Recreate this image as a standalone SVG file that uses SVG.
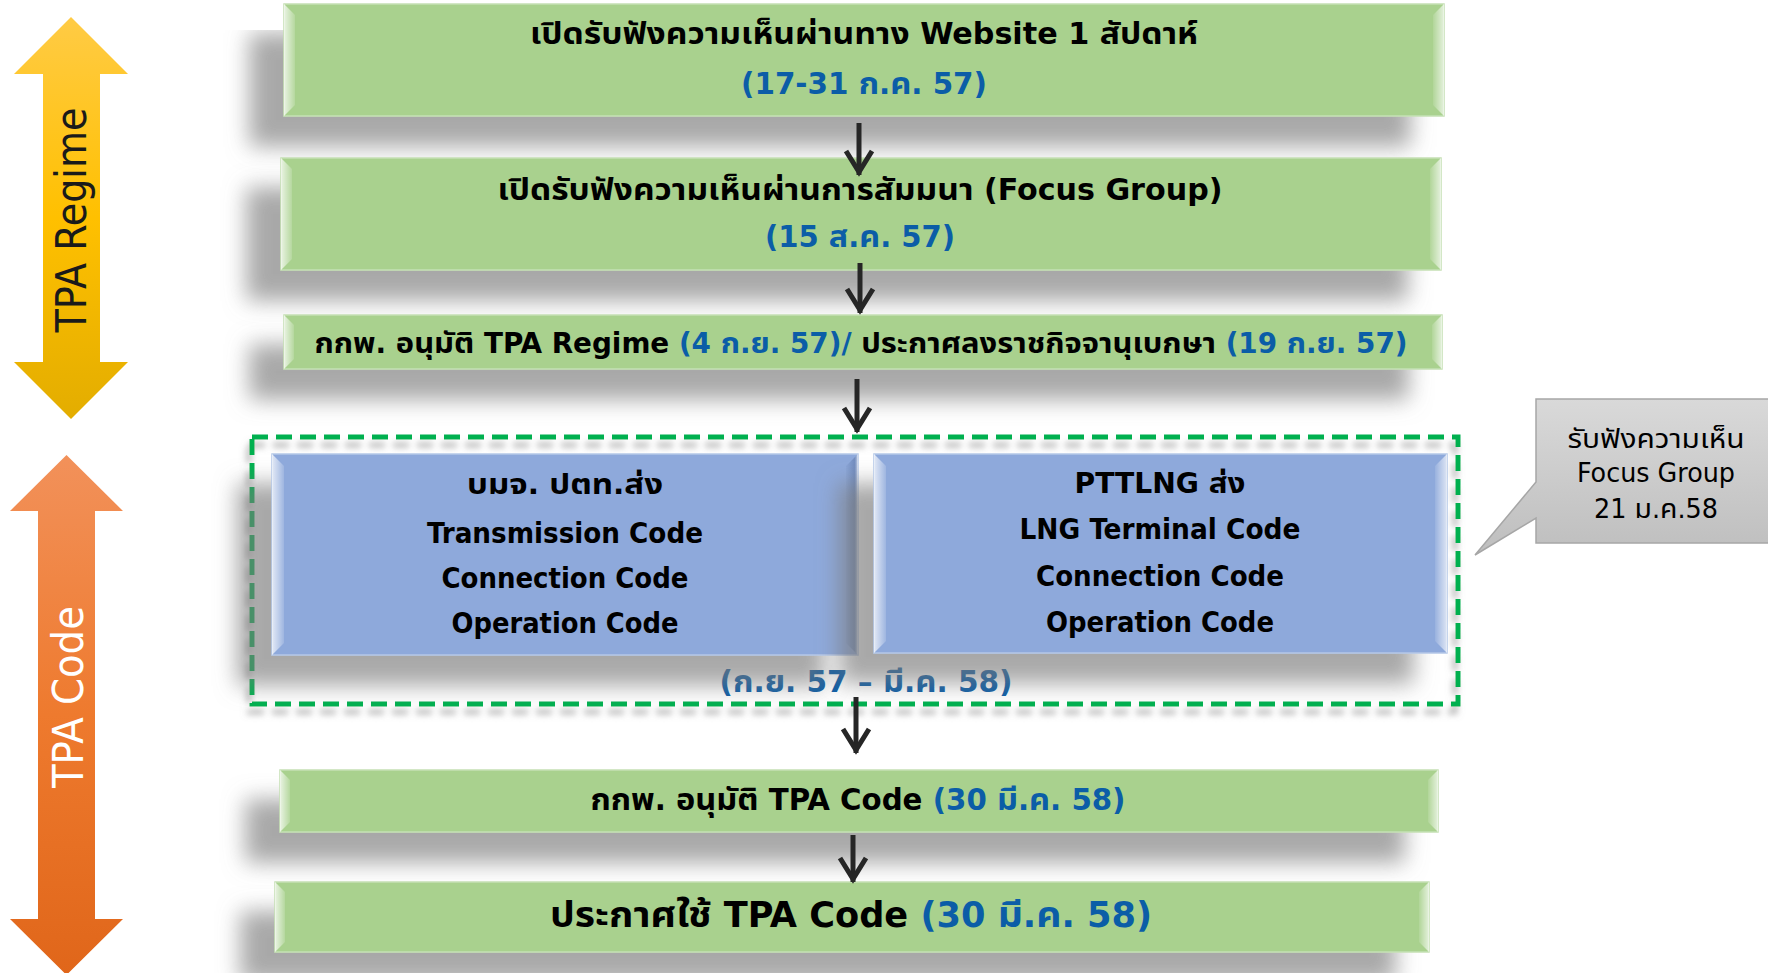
<svg xmlns="http://www.w3.org/2000/svg" width="1768" height="973" viewBox="0 0 1768 973">
<defs>
<style>
.t{font-family:Tahoma,"DejaVu Sans Condensed","DejaVu Sans","Noto Sans Thai","Noto Sans",sans-serif;font-stretch:condensed;}
.b{font-weight:bold;fill:#000;}
.bl{fill:#0B5DA7;}
.g{fill:#A9D18E;stroke:#C5E0B4;stroke-width:1.5;}
.bx{fill:#8EA9DB;stroke:#B4C7E7;stroke-width:1.5;}
.bevL{fill:url(#bevL);}
.bevR{fill:url(#bevR);}
.bevRb{fill:url(#bevRb);}
.conn{fill:none;stroke:#262626;stroke-width:5;marker-end:url(#ah);}
</style>
<linearGradient id="yel" x1="0" y1="0" x2="0" y2="1">
<stop offset="0" stop-color="#FFCB45"/><stop offset="0.5" stop-color="#FFC000"/><stop offset="1" stop-color="#E3AD00"/>
</linearGradient>
<linearGradient id="org" x1="0" y1="0" x2="0" y2="1">
<stop offset="0" stop-color="#F2915A"/><stop offset="0.5" stop-color="#EE7A2E"/><stop offset="1" stop-color="#E0661A"/>
</linearGradient>
<linearGradient id="gray" x1="0" y1="0" x2="0" y2="1">
<stop offset="0" stop-color="#D9D9D9"/><stop offset="1" stop-color="#BEBEBE"/>
</linearGradient>
<linearGradient id="bevL" x1="0" y1="0" x2="1" y2="0">
<stop offset="0" stop-color="#FFFFFF" stop-opacity="0.75"/><stop offset="1" stop-color="#FFFFFF" stop-opacity="0.15"/>
</linearGradient>
<linearGradient id="bevR" x1="0" y1="0" x2="1" y2="0">
<stop offset="0" stop-color="#FFFFFF" stop-opacity="0.1"/><stop offset="1" stop-color="#FFFFFF" stop-opacity="0.7"/>
</linearGradient>
<linearGradient id="bevRb" x1="0" y1="0" x2="1" y2="0">
<stop offset="0" stop-color="#3F5A8C" stop-opacity="0.05"/><stop offset="0.7" stop-color="#3F5A8C" stop-opacity="0.35"/><stop offset="1" stop-color="#FFFFFF" stop-opacity="0.6"/>
</linearGradient>
<filter id="sh" filterUnits="userSpaceOnUse" x="0" y="0" width="1768" height="973">
<feGaussianBlur in="SourceAlpha" stdDeviation="11"/>
<feOffset dx="-34" dy="30" result="b"/>
<feFlood flood-color="#7A7A7A" flood-opacity="0.65"/>
<feComposite in2="b" operator="in"/>
<feMerge><feMergeNode/><feMergeNode in="SourceGraphic"/></feMerge>
</filter>
<filter id="sh2" filterUnits="userSpaceOnUse" x="0" y="0" width="1768" height="973">
<feGaussianBlur in="SourceAlpha" stdDeviation="3"/>
<feOffset dx="-3" dy="8" result="b"/>
<feFlood flood-color="#808080" flood-opacity="0.55"/>
<feComposite in2="b" operator="in"/>
<feMerge><feMergeNode/><feMergeNode in="SourceGraphic"/></feMerge>
</filter>
<marker id="ah" markerUnits="userSpaceOnUse" markerWidth="40" markerHeight="40" refX="0" refY="0" orient="auto" overflow="visible">
<path d="M-24,-13 L-3,0 L-24,13" fill="none" stroke="#262626" stroke-width="5" stroke-linejoin="miter"/>
</marker>
</defs>
<rect width="1768" height="973" fill="#FFFFFF"/>

<g id="arrow-regime">
<polygon points="71,17 128,74 100,74 100,362 128,362 71,419 14,362 43,362 43,74 14,74" fill="url(#yel)"/>
<text class="t" transform="translate(86,220) rotate(-90)" text-anchor="middle" font-size="42" fill="#1A1A1A" textLength="225" lengthAdjust="spacingAndGlyphs">TPA Regime</text>
</g>

<g id="arrow-code">
<polygon points="66.5,455 123,511 95,511 95,919 123,919 66.5,975 10,919 38,919 38,511 10,511" fill="url(#org)"/>
<text class="t" transform="translate(83,697) rotate(-90)" text-anchor="middle" font-size="42" fill="#FFFFFF" textLength="182" lengthAdjust="spacingAndGlyphs">TPA Code</text>
</g>

<g id="step1">
<rect class="g" x="284" y="4" width="1160" height="112" filter="url(#sh)"/>
<polygon class="bevL" points="284,4 295,15 295,105 284,116"/>
<polygon class="bevR" points="1444,4 1433,15 1433,105 1444,116"/>
<text class="t b" x="864" y="44" font-size="30" text-anchor="middle" textLength="668" lengthAdjust="spacingAndGlyphs">เปิดรับฟังความเห็นผ่านทาง Website 1 สัปดาห์</text>
<text class="t bl" x="864" y="94" font-size="30" font-weight="bold" text-anchor="middle" textLength="246" lengthAdjust="spacingAndGlyphs">(17-31 ก.ค. 57)</text>
</g>

<g id="step2">
<rect class="g" x="281" y="158" width="1160" height="112" filter="url(#sh)"/>
<polygon class="bevL" points="281,158 292,169 292,259 281,270"/>
<polygon class="bevR" points="1441,158 1430,169 1430,259 1441,270"/>
<text class="t b" x="860" y="200" font-size="30" text-anchor="middle" textLength="725" lengthAdjust="spacingAndGlyphs">เปิดรับฟังความเห็นผ่านการสัมมนา (Focus Group)</text>
<text class="t bl" x="860" y="247" font-size="30" font-weight="bold" text-anchor="middle" textLength="190" lengthAdjust="spacingAndGlyphs">(15 ส.ค. 57)</text>
</g>

<g id="step3">
<rect class="g" x="284" y="315" width="1158" height="54" filter="url(#sh)"/>
<polygon class="bevL" points="284,315 294,325 294,359 284,369"/>
<polygon class="bevR" points="1442,315 1432,325 1432,359 1442,369"/>
<text class="t b" x="861" y="353" font-size="28" text-anchor="middle" textLength="1093" lengthAdjust="spacingAndGlyphs">กกพ. อนุมัติ TPA Regime <tspan class="bl">(4 ก.ย. 57)/</tspan> ประกาศลงราชกิจจานุเบกษา <tspan class="bl">(19 ก.ย. 57)</tspan></text>
</g>

<g id="group-code">
<rect x="252" y="437" width="1206" height="267" fill="none" stroke="#00B050" stroke-width="5" stroke-dasharray="16 8" filter="url(#sh2)"/>
<text class="t bl" x="866" y="692" font-size="30" font-weight="bold" text-anchor="middle" textLength="293" lengthAdjust="spacingAndGlyphs">(ก.ย. 57 – มี.ค. 58)</text>
</g>

<g id="ptt">
<rect class="bx" x="272" y="454" width="586" height="201" filter="url(#sh)"/>
<polygon class="bevL" points="272,454 284,466 284,643 272,655"/>
<polygon class="bevRb" points="858,454 846,466 846,643 858,655"/>
<text class="t b" x="565" y="494" font-size="29" text-anchor="middle" textLength="196" lengthAdjust="spacingAndGlyphs">บมจ. ปตท.ส่ง</text>
<text class="t b" x="565" y="543" font-size="29" text-anchor="middle" textLength="276" lengthAdjust="spacingAndGlyphs">Transmission Code</text>
<text class="t b" x="565" y="588" font-size="29" text-anchor="middle" textLength="247" lengthAdjust="spacingAndGlyphs">Connection Code</text>
<text class="t b" x="565" y="633" font-size="29" text-anchor="middle" textLength="227" lengthAdjust="spacingAndGlyphs">Operation Code</text>
</g>

<g id="pttlng">
<rect class="bx" x="874" y="454" width="573" height="199" filter="url(#sh)"/>
<polygon class="bevL" points="874,454 886,466 886,641 874,653"/>
<polygon class="bevR" points="1447,454 1435,466 1435,641 1447,653"/>
<text class="t b" x="1160" y="493" font-size="29" text-anchor="middle" textLength="171" lengthAdjust="spacingAndGlyphs">PTTLNG ส่ง</text>
<text class="t b" x="1160" y="539" font-size="29" text-anchor="middle" textLength="281" lengthAdjust="spacingAndGlyphs">LNG Terminal Code</text>
<text class="t b" x="1160" y="586" font-size="29" text-anchor="middle" textLength="248" lengthAdjust="spacingAndGlyphs">Connection Code</text>
<text class="t b" x="1160" y="632" font-size="29" text-anchor="middle" textLength="228" lengthAdjust="spacingAndGlyphs">Operation Code</text>
</g>

<g id="callout">
<path d="M1536,399 H1770 V543 H1536 V518 L1475,555 L1536,482 Z" fill="url(#gray)" stroke="#A6A6A6" stroke-width="1.5"/>
<text class="t" x="1656" y="448" font-size="26" fill="#000" text-anchor="middle" textLength="177" lengthAdjust="spacingAndGlyphs">รับฟังความเห็น</text>
<text class="t" x="1656" y="482" font-size="26" fill="#000" text-anchor="middle" textLength="158" lengthAdjust="spacingAndGlyphs">Focus Group</text>
<text class="t" x="1656" y="518" font-size="26" fill="#000" text-anchor="middle" textLength="124" lengthAdjust="spacingAndGlyphs">21 ม.ค.58</text>
</g>

<g id="step4">
<rect class="g" x="280" y="770" width="1158" height="62" filter="url(#sh)"/>
<polygon class="bevL" points="280,770 290,780 290,822 280,832"/>
<polygon class="bevR" points="1438,770 1428,780 1428,822 1438,832"/>
<text class="t b" x="858" y="810" font-size="30" text-anchor="middle" textLength="535" lengthAdjust="spacingAndGlyphs">กกพ. อนุมัติ TPA Code <tspan class="bl">(30 มี.ค. 58)</tspan></text>
</g>

<g id="step5">
<rect class="g" x="275" y="882" width="1154" height="70" filter="url(#sh)"/>
<polygon class="bevL" points="275,882 285,892 285,942 275,952"/>
<polygon class="bevR" points="1429,882 1419,892 1419,942 1429,952"/>
<text class="t b" x="851" y="927" font-size="35" text-anchor="middle" textLength="602" lengthAdjust="spacingAndGlyphs">ประกาศใช้ TPA Code <tspan class="bl">(30 มี.ค. 58)</tspan></text>
</g>

<g id="connectors">
<path class="conn" d="M859,123 V175"/>
<path class="conn" d="M860,263 V313"/>
<path class="conn" d="M857,379 V432"/>
<path class="conn" d="M856,697 V753"/>
<path class="conn" d="M853,835 V882"/>
</g>
</svg>
